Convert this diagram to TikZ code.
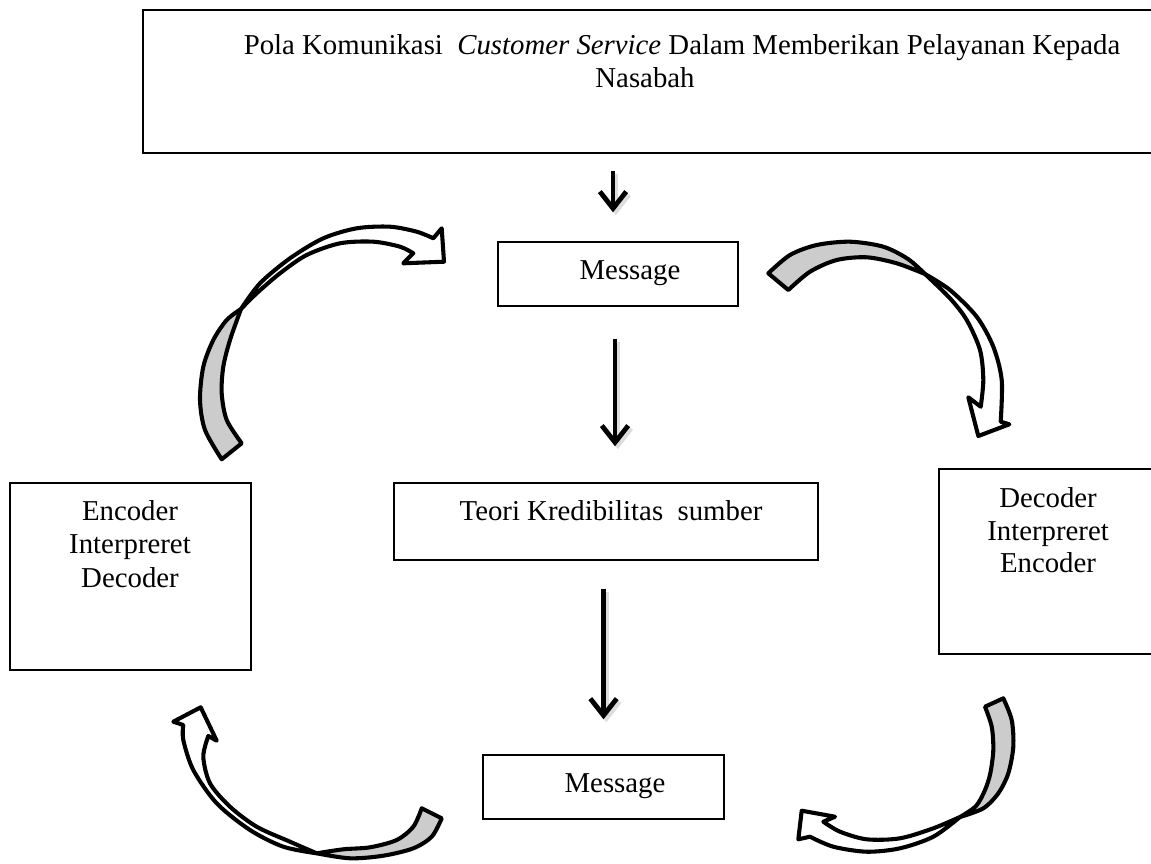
\documentclass[tikz,border=0pt]{standalone}
\usepackage{fontspec}
\setmainfont{Liberation Serif}
\usetikzlibrary{arrows.meta,fit,calc}
\begin{document}
\begin{tikzpicture}[x=0.4167pt,y=-0.4167pt,
  box/.style={draw, line width=0.6pt, inner sep=0pt},
  txt/.style={font=\fontsize{12}{14}\selectfont, anchor=base, inner sep=0pt},
  down/.style={line width=2pt, -{Straight Barb[length=7pt,width=11pt]}},
  downshadow/.style={down, draw=gray!45, opacity=0.6, transform canvas={shift={(1.2pt,-1.2pt)}}},
  back/.style={fill=gray!40, draw, line width=1.7pt, line join=round},
  front/.style={fill=white, draw, line width=1.7pt, line join=round}]
\useasboundingbox (0,0) rectangle (1151,863);
\clip (0,0) rectangle (1151,863);

% boxes
\node[box, fit={(143,10)(1175,153)}] (title) {};
\node[box, fit={(498,242)(738,306)}] (m1) {};
\node[box, fit={(394,483)(818,560)}] (teori) {};
\node[box, fit={(10,483)(251,670)}] (enc) {};
\node[box, fit={(939,469)(1175,654)}] (dec) {};
\node[box, fit={(483,755)(724,819)}] (m2) {};

% texts
\node[txt] (t1) at (682,55) {Pola Komunikasi~ \textit{Customer Service} Dalam Memberikan Pelayanan Kepada};
\node[txt] (t2) at (645,88) {Nasabah};
\node[txt] (m1t) at (630,279) {Message};
\node[txt] (teorit) at (611,520) {Teori Kredibilitas~ sumber};
\node[txt] (m2t) at (615,792) {Message};
\node[txt] (e1) at (130,520) {Encoder};
\node[txt] (e2) at (130,553.5) {Interpreret};
\node[txt] (e3) at (130,587) {Decoder};
\node[txt] (d1) at (1048,507) {Decoder};
\node[txt] (d2) at (1048,540) {Interpreret};
\node[txt] (d3) at (1048,572) {Encoder};

% straight arrows (with soft shadow)
\draw[downshadow] ($(title.south -| m1.north)+(-5,17)$) -- ($(m1.north)+(-5,-29)$);
\draw[downshadow] ($(m1.south)+(-3,32)$) -- ($(teori.north -| m1.south)+(-3,-36)$);
\draw[downshadow] ($(teori.south -| m2.north)+(0,28)$) -- ($(m2.north)+(0,-35)$);
\draw[down] ($(title.south -| m1.north)+(-5,17)$) -- ($(m1.north)+(-5,-29)$);
\draw[down] ($(m1.south)+(-3,32)$) -- ($(teori.north -| m1.south)+(-3,-36)$);
\draw[down] ($(teori.south -| m2.north)+(0,28)$) -- ($(m2.north)+(0,-35)$);

% curved arrow top-left
\filldraw[back] plot[smooth] coordinates {(221.7,459.3) (205,430) (200,400) (203.3,366.7) (213.3,340) (226.7,320) (241,309)}
  -- plot[smooth] coordinates {(241,309) (230,340) (223.3,366.7) (221.7,393.3) (226.7,420) (241.7,443.3)} -- cycle;
\filldraw[front] plot[smooth] coordinates {(241,309) (260,283.3) (290,258.3) (323.3,238.3) (356.7,228.3) (390,226.7) (416.7,231.7) (433.3,238.3)}
  -- (441.7,228.3) -- (444,261.7) -- (403.3,263.3) -- (413.3,253.3)
  -- plot[smooth] coordinates {(413.3,253.3) (400,246.7) (373.3,241.7) (340,243.3) (306.7,255) (280,273.3) (256.7,293.3) (241,309)} -- cycle;

% curved arrow top-right
\filldraw[back] plot[smooth] coordinates {(768.3,273.3) (790,255) (816.7,245) (850,241.7) (883.3,246.7) (908,259) (925,274)}
  -- plot[smooth] coordinates {(925,274) (896.7,263.3) (866.7,257.3) (836.7,260) (810,271.7) (788.3,290)} -- cycle;
\filldraw[front] plot[smooth] coordinates {(925,274) (950,290) (976.7,316.7) (993.3,346.7) (1001.7,380) (1000.7,421.7)}
  -- (1009.3,424.3) -- (978.3,436) -- (968.3,397.3) -- (980.7,406.7)
  -- plot[smooth] coordinates {(980.7,406.7) (983.3,380) (980,350) (966.7,320) (950,298.3) (925,274)} -- cycle;

% curved arrow bottom-left
\filldraw[back] plot[smooth] coordinates {(441.7,818.3) (431.7,836.7) (413.3,848.3) (383.3,855.7) (350,858.3) (316.7,853.3)}
  -- plot[smooth] coordinates {(316.7,853.3) (343.3,849.3) (370,847.3) (396.7,840) (413.3,826.7) (421.7,808.3)} -- cycle;
\filldraw[front] plot[smooth] coordinates {(316.7,853.3) (283.3,846.7) (250,830) (216.7,803.3) (193.3,770) (183.3,740) (183.3,725)}
  -- (173.3,721.7) -- (200.7,707.3) -- (216.7,740.7) -- (208.3,736)
  -- plot[smooth] coordinates {(208.3,736) (203.3,756.7) (210,783.3) (230,806.7) (256.7,826.7) (290,841.7) (316.7,853.3)} -- cycle;

% curved arrow bottom-right
\filldraw[back] plot[smooth] coordinates {(1003.3,698.3) (1011.7,720) (1013.3,746.7) (1008.3,773.3) (998.3,793.3) (983.3,808.3) (960,817)}
  -- plot[smooth] coordinates {(960,817) (976,806) (985,790) (990.3,773.3) (993.3,750) (991.7,726.7) (985,706.7)} -- cycle;
\filldraw[front] plot[smooth] coordinates {(960,817) (933.3,836.7) (900,848.3) (866.7,851.7) (833.3,846.7) (810,836.7)}
  -- (798.3,839.3) -- (801.7,810.7) -- (835,816.7) -- (823.3,821.7)
  -- plot[smooth] coordinates {(823.3,821.7) (840,831.7) (866.7,839.3) (900,838.3) (933.3,828.3) (960,817)} -- cycle;
\end{tikzpicture}
\end{document}
